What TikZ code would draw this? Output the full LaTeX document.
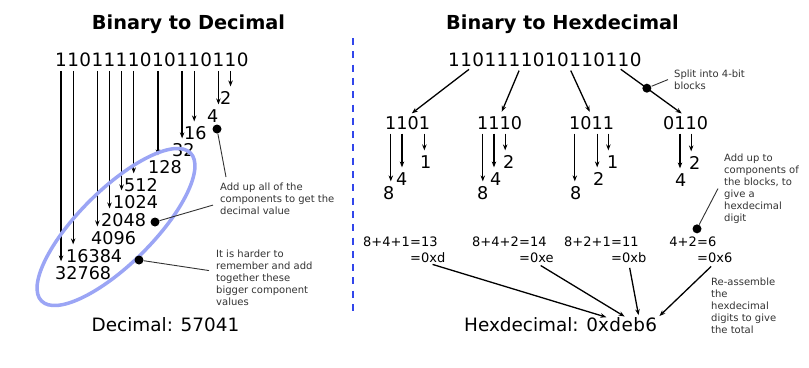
\documentclass[tikz,border=0pt]{standalone}
\usepackage{fontspec}
\setmainfont{DejaVu Sans}
\usepackage{tikz}
\usetikzlibrary{arrows.meta, positioning, calc}

\definecolor{halo}{RGB}{155,165,245}
\definecolor{divider}{RGB}{50,70,235}

\tikzset{
    title/.style={font=\fontsize{19.3}{22}\selectfont\bfseries, inner sep=0, text height=14pt, text depth=0pt},
    digit/.style={font=\fontsize{18.4}{22}\selectfont, inner sep=0, text height=13.4pt, text depth=0pt},
    blockdigit/.style={font=\fontsize{17.6}{21}\selectfont, inner sep=0, text height=12.8pt, text depth=0pt},
    val/.style={blockdigit},
    big/.style={digit},
    sum/.style={font=\fontsize{13}{16}\selectfont, inner sep=0, text height=9.5pt, text depth=0pt},
    note/.style={font=\fontsize{10}{12}\selectfont, text=black!80, align=left, inner sep=0, anchor=north west},
    dot/.style={circle, fill=black, inner sep=0, minimum size=9pt},
    bitarrow/.style={-{Stealth[length=6pt,width=4.5pt]}, line width=1.3pt, shorten <=4pt, shorten >=5pt},
    hexarrow/.style={-{Stealth[length=6pt,width=4.5pt]}, line width=1.3pt, shorten <=5pt, shorten >=3pt},
    pointer/.style={line width=0.9pt, black!80},
}

\begin{document}
\begin{tikzpicture}[x=1pt, y=-1pt]
    \useasboundingbox[fill=white] (0,0) rectangle (809,367);

    % headings
    \node[title] (dectitle) at (188.5,22) {Binary to Decimal};
    \node[title] (hextitle) at (562.5,22) {Binary to Hexdecimal};

    % divider between the two halves
    \draw[divider, line width=2pt, dash pattern=on 7pt off 6.3pt] (353,38) -- (353,313);

    %%% left half: binary -> decimal
    \node[digit, anchor=west] (lb0) at (55,60) {1};
    \foreach \d [count=\i from 1, remember=\i as \j (initially 0)] in {1,0,1,1,1,1,0,1,0,1,1,0,1,1,0}
        \node[digit, right=0pt of lb\j] (lb\i) {\d};

    % place values of the set bits
    \foreach \b/\v/\x/\y in {14/2/220/98, 13/4/207/116, 11/16/184/133, 10/32/172/150, 8/128/148/167,
                             6/512/124/185, 5/1024/113/202, 4/2048/101/220, 3/4096/91/238,
                             1/16384/66/256, 0/32768/55/273}
    {
        \node[val, anchor=west] (lv\b) at (\x,\y) {\v};
        \draw[bitarrow] (lb\b.south) -- (lb\b.south |- lv\b.north);
    }

    % ring round the big values
    \draw[halo, line width=3.5pt, rotate around={44.8:(116,227)}] (116,227) ellipse (105 and 37);

    \node[dot] (d1) at (217,129) {};
    \node[dot] (d2) at (155,222) {};
    \node[dot] (d3) at (139,260) {};
    \node[note] (n1) at (220,183) {Add up all of the\\components to get the\\decimal value};
    \node[note] (n2) at (216,249.5) {It is harder to\\remember and add\\together these\\bigger component\\values};
    \draw[pointer] (d1) -- ([xshift=6pt, yshift=6pt]n1.north west);
    \draw[pointer] (d2) -- ([xshift=-7pt, yshift=-6pt]n1.west);
    \draw[pointer] (d3) -- ([xshift=-7pt, yshift=7pt]n2.west);

    \node[big] (decimal) at (165.5,325) {Decimal: 57041};

    %%% right half: binary -> hex
    \node[digit, anchor=west] (rb0) at (448,60) {1};
    \foreach \d [count=\i from 1, remember=\i as \j (initially 0)] in {1,0,1,1,1,1,0,1,0,1,1,0,1,1,0}
        \node[digit, right=0pt of rb\j] (rb\i) {\d};

    % 4-bit blocks
    \foreach \k/\x/\bits in {0/385/{1,1,0,1}, 1/477/{1,1,1,0}, 2/569/{1,0,1,1}, 3/663/{0,1,1,0}}
        \foreach \d [count=\j from 0] in \bits
            \node[blockdigit, anchor=west] (bd\k\j) at ({\x+11.19*\j},123) {\d};

    \foreach \k [evaluate=\k as \m using int(4*\k+1)] in {0,1,2}
        \draw[bitarrow] (rb\m.south east) -- (bd\k1.north east);
    \draw[bitarrow] (rb13.south east) -- node[dot, pos=0.43] (d4) {} (bd31.north east);

    \foreach \k/\j/\v/\x/\y in {0/0/8/383/193, 0/1/4/396/179, 0/3/1/420/162,
                                1/0/8/477/193, 1/1/4/490/179, 1/2/2/503/162,
                                2/0/8/570/193, 2/2/2/593/179, 2/3/1/607/162,
                                3/1/4/675/180, 3/2/2/689/163}
    {
        \node[val, anchor=west] (bv\k\j) at (\x,\y) {\v};
        \draw[bitarrow] (bd\k\j.south) -- (bd\k\j.south |- bv\k\j.north);
    }

    % sums of each block, = signs lined up
    \foreach \k/\x/\lhs/\rhs/\hex in {0/410/8+4+1/13/d, 1/519/8+4+2/14/e, 2/611/8+2+1/11/b, 3/697/4+2/6/6}
    {
        \node[sum, anchor=east] (sl\k) at (\x,242) {\lhs};
        \node[sum, anchor=west] (sr\k) at (sl\k.east) {=\rhs};
        \node[sum, anchor=west] (sh\k) at (\x,258) {=0x\hex};
    }

    \node[dot, above=3.5pt of sl3.north east] (d5) {};
    \node[note] (n3) at (674,69.5) {Split into 4-bit\\blocks};
    \node[note] (n4) at (724,153.5) {Add up to\\components of\\the blocks, to\\give a\\hexdecimal\\digit};
    \node[note] (n5) at (711,277.5) {Re-assemble\\the\\hexdecimal\\digits to give\\the total};
    \draw[pointer] (d4) -- ([xshift=-6pt]n3.west);
    \draw[pointer] (d5) -- ([xshift=-6pt]n4.west);

    % result
    \node[big, anchor=west] (hexlabel) at (464,325) {Hexdecimal: 0x};
    \node[big, right=0pt of hexlabel] (hx0) {d};
    \node[big, right=0pt of hx0] (hx1) {e};
    \node[big, right=0pt of hx1] (hx2) {b};
    \node[big, right=0pt of hx2] (hx3) {6};

    \draw[hexarrow] (sh0.south) -- (hx0.north west);
    \draw[hexarrow] (sh1.south) -- (hx1.north);
    \draw[hexarrow] (sh2.south) -- (hx2.north);
    \draw[hexarrow] (sh3.south) -- (hx3.north east);
\end{tikzpicture}
\end{document}
